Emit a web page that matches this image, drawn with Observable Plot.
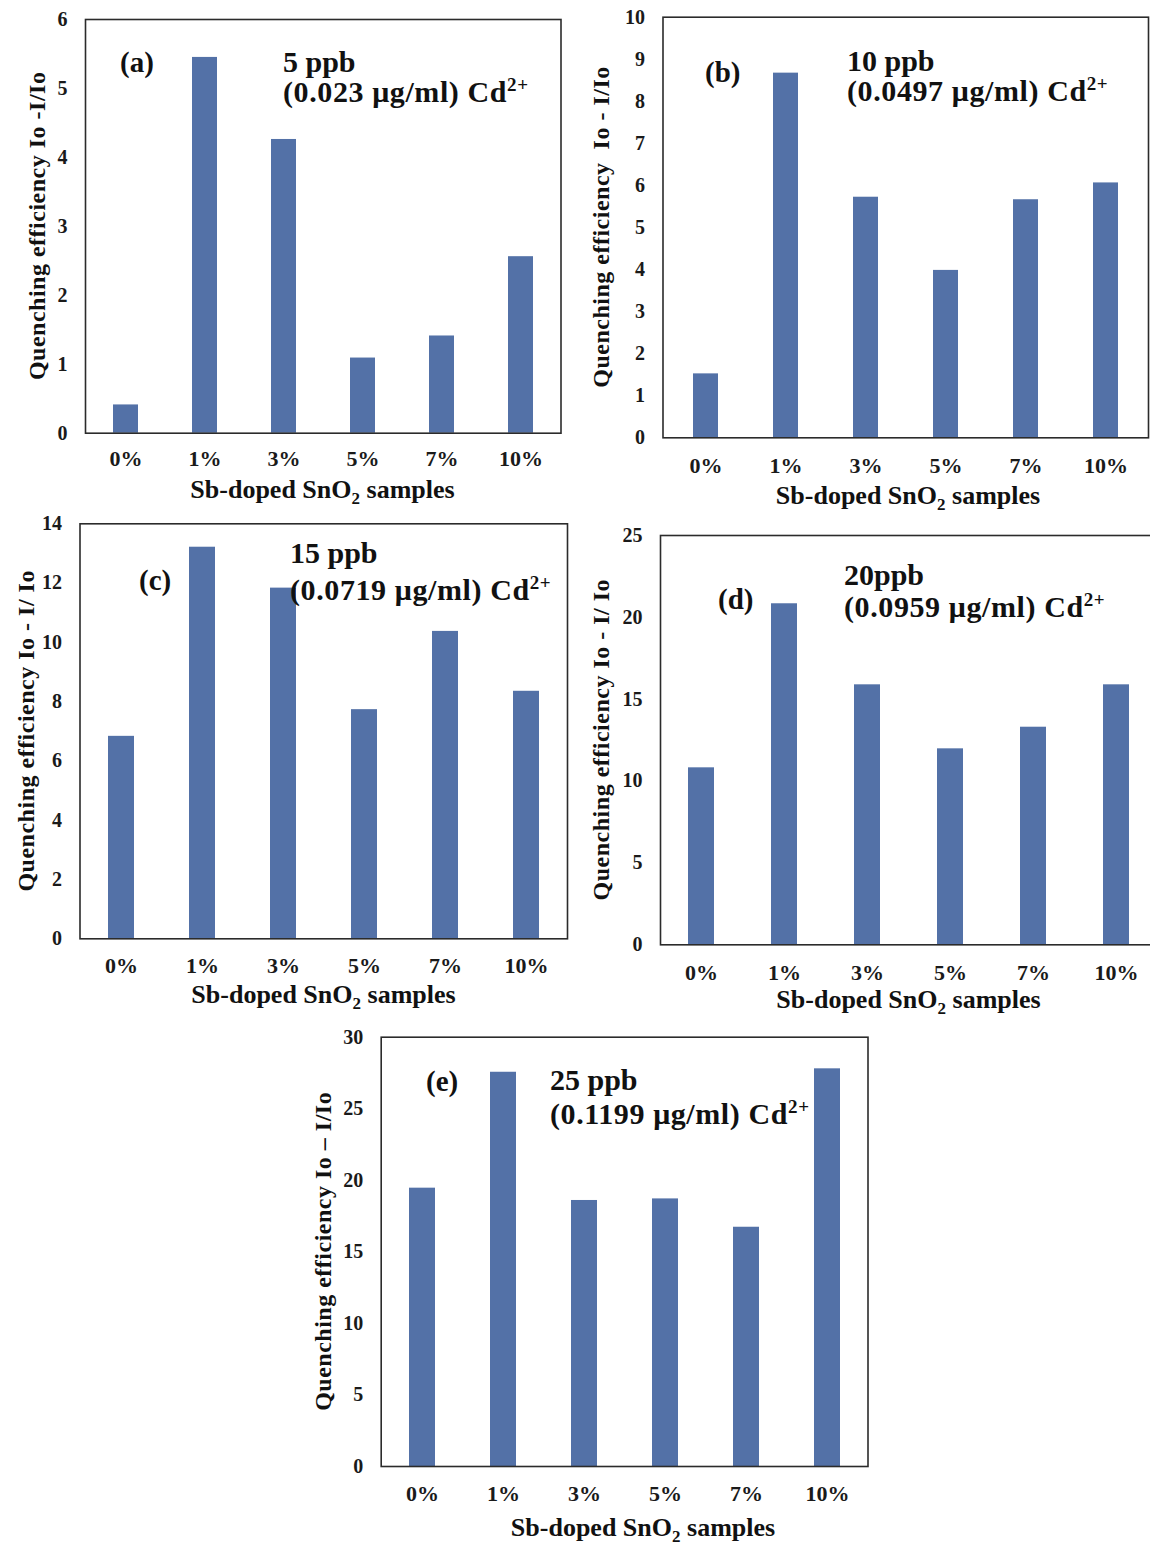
<!DOCTYPE html>
<html>
<head>
<meta charset="utf-8">
<script src="https://cdn.jsdelivr.net/npm/d3@7"></script>
<script src="https://cdn.jsdelivr.net/npm/@observablehq/plot@0.6"></script>
<style>
  body { margin: 0; background: #fff; }
  #figure { position: relative; width: 1150px; height: 1545px; overflow: hidden; background: #fff; }
  #figure svg { position: absolute; }
</style>
</head>
<body>
<div id="figure"></div>
<script>
// Sb-doped SnO2 samples (doping level)
const samples = ["0%", "1%", "3%", "5%", "7%", "10%"];

// Quenching efficiency (Io - I)/Io for each Cd2+ concentration
const efficiency5ppb  = [0.41, 5.45, 4.26, 1.09, 1.41, 2.56];
const efficiency10ppb = [1.52, 8.67, 5.72, 3.98, 5.66, 6.06];
const efficiency15ppb = [6.83, 13.21, 11.83, 7.73, 10.37, 8.35];
const efficiency20ppb = [10.81, 20.83, 15.88, 11.97, 13.29, 15.88];
const efficiency25ppb = [19.45, 27.55, 18.59, 18.70, 16.72, 27.79];

// y-axis tick values per panel
const ticks5ppb  = [0, 1, 2, 3, 4, 5, 6];
const ticks10ppb = [0, 1, 2, 3, 4, 5, 6, 7, 8, 9, 10];
const ticks15ppb = [0, 2, 4, 6, 8, 10, 12, 14];
const ticks20ppb = [0, 5, 10, 15, 20, 25];
const ticks25ppb = [0, 5, 10, 15, 20, 25, 30];

// panel texts
const panelTags = ["(a)", "(b)", "(c)", "(d)", "(e)"];
const doseLabels = ["5 ppb", "10 ppb", "15 ppb", "20ppb", "25 ppb"];
const massLabels = ["(0.023 μg/ml) Cd", "(0.0497 μg/ml) Cd", "(0.0719 μg/ml) Cd", "(0.0959 μg/ml) Cd", "(0.1199 μg/ml) Cd"];
const ionCharge = "2+";
const yTitles = [
  "Quenching efficiency Io -I/Io",
  "Quenching efficiency  Io - I/Io",
  "Quenching efficiency Io - I/ Io",
  "Quenching efficiency Io - I/ Io",
  "Quenching efficiency Io \u2013 I/Io"
];
const xTitleParts = ["Sb-doped SnO", "2", " samples"];

const barColor = "#5371a7";
const serif = "'Liberation Serif', 'Times New Roman', serif";

// page placement of each panel (page coordinates in px)
const layout = [
  {left: 0,   top: 0,    width: 575, height: 510, m: [19, 14.5, 77.3, 85],   xPad: 17,
   tag: [120, 72],  dose: [283, 72],  mass: [283, 102], yTitleX: 37,  xTitle: [322.5, 498]},
  {left: 575, top: 0,    width: 575, height: 510, m: [16.7, 2, 72.7, 87.5],  xPad: 20,
   tag: [705, 82],  dose: [847, 71],  mass: [847, 101], yTitleX: 601, xTitle: [908, 504]},
  {left: 0,   top: 505,  width: 575, height: 510, m: [18.3, 8, 76.7, 79.5],  xPad: 19,
   tag: [139, 590], dose: [290, 563], mass: [290, 600], yTitleX: 26,  xTitle: [323.5, 1003]},
  {left: 575, top: 505,  width: 600, height: 510, m: [30, 17, 70.7, 85],     xPad: 20,
   tag: [718, 609], dose: [844, 585], mass: [844, 617], yTitleX: 601, xTitle: [908.5, 1008]},
  {left: 290, top: 1015, width: 600, height: 530, m: [21.7, 22.5, 79, 90.7], xPad: 19,
   tag: [426, 1091], dose: [550, 1090], mass: [550, 1124], yTitleX: 322.5, xTitle: [643, 1536]}
];

const series = [efficiency5ppb, efficiency10ppb, efficiency15ppb, efficiency20ppb, efficiency25ppb];
const tickSets = [ticks5ppb, ticks10ppb, ticks15ppb, ticks20ppb, ticks25ppb];

const figure = document.getElementById("figure");

series.forEach((values, i) => {
  const L = layout[i];
  const yTicks = tickSets[i];
  const rows = samples.map((s, k) => ({sample: s, value: values[k]}));

  const svg = Plot.plot({
    width: L.width,
    height: L.height,
    marginTop: L.m[0], marginRight: L.m[1], marginBottom: L.m[2], marginLeft: L.m[3],
    style: {background: "transparent", fontFamily: serif, fontWeight: "bold", color: "#1a1a1a", overflow: "visible"},
    x: {domain: samples, paddingInner: 0.685, paddingOuter: 0.3425},
    y: {domain: [0, yTicks[yTicks.length - 1]]},
    marks: [
      Plot.barY(rows, {x: "sample", y: "value", fill: barColor}),
      Plot.frame({stroke: "#2b2b2b", strokeWidth: 1.6}),
      Plot.axisX({tickSize: 0, tickPadding: L.xPad, fontSize: 22, label: null}),
      Plot.axisY({ticks: yTicks, tickSize: 0, tickPadding: 18, fontSize: 20, label: null, tickFormat: d => String(d)})
    ]
  });
  svg.style.left = L.left + "px";
  svg.style.top = L.top + "px";
  figure.appendChild(svg);

  const g = d3.select(svg).append("g")
    .attr("font-family", serif)
    .attr("font-weight", "bold")
    .attr("fill", "#111");

  // panel tag
  g.append("text")
    .attr("text-anchor", "start")
    .attr("x", L.tag[0] - L.left).attr("y", L.tag[1] - L.top)
    .attr("font-size", 29)
    .text(panelTags[i]);

  // concentration
  g.append("text")
    .attr("text-anchor", "start")
    .attr("x", L.dose[0] - L.left).attr("y", L.dose[1] - L.top)
    .attr("font-size", 30)
    .text(doseLabels[i]);

  const mass = g.append("text")
    .attr("text-anchor", "start")
    .attr("x", L.mass[0] - L.left).attr("y", L.mass[1] - L.top)
    .attr("font-size", 30)
    .attr("letter-spacing", 0.6);
  mass.append("tspan").text(massLabels[i]);
  mass.append("tspan").attr("font-size", 19).attr("dy", -11).text(ionCharge);

  // y-axis title
  const plotTop = L.m[0];
  const plotBottom = L.height - L.m[2];
  g.append("text")
    .attr("transform", `translate(${L.yTitleX - L.left},${(plotTop + plotBottom) / 2}) rotate(-90)`)
    .attr("text-anchor", "middle")
    .attr("dominant-baseline", "central")
    .attr("font-size", 24)
    .attr("letter-spacing", 0.5)
    .text(yTitles[i]);

  // x-axis title with subscript
  const xt = g.append("text")
    .attr("x", L.xTitle[0] - L.left).attr("y", L.xTitle[1] - L.top)
    .attr("text-anchor", "middle")
    .attr("font-size", 26);
  xt.append("tspan").text(xTitleParts[0]);
  xt.append("tspan").attr("font-size", 17).attr("dy", 6).text(xTitleParts[1]);
  xt.append("tspan").attr("dy", -6).text(xTitleParts[2]);
});
</script>
</body>
</html>
